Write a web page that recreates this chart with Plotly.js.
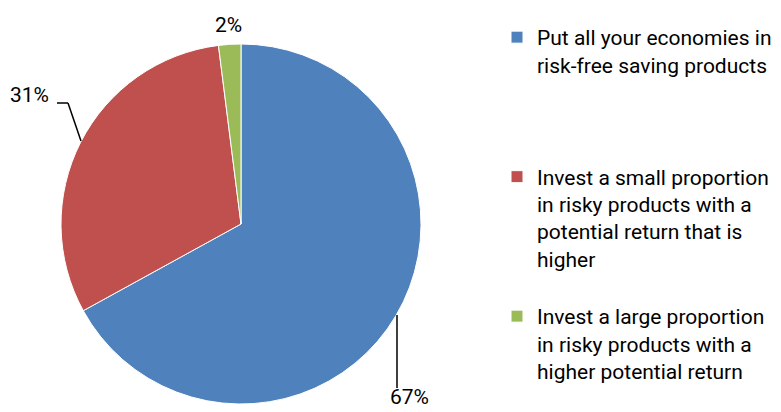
<!DOCTYPE html>
<html><head><meta charset="utf-8">
<script src="https://cdn.plot.ly/plotly-3.0.1.min.js"></script>
<style>html,body{margin:0;padding:0;background:#fff}#chart{width:781px;height:412px}</style>
</head><body><div id="chart"></div>
<script>
var categories = [
  "Put all your economies in<br>risk-free saving products",
  "Invest a small proportion<br>in risky products with a<br>potential return that is<br>higher",
  "Invest a large proportion<br>in risky products with a<br>higher potential return"
];
var values = [67, 31, 2];
var colors = ["#4F81BD", "#C0504D", "#9BBB59"];

var W = 781, H = 412;
function px(x){return x/W;} function py(y){return 1 - y/H;}

var slots = 5;
var legendLabels = categories.map(function(c, k){
  if (k === categories.length - 1) return c;
  var n = c.split("<br>").length;
  var s = c;
  for (var i=n;i<slots;i++) s += "<br>&nbsp;";
  return s;
});

var total = values.reduce(function(a,b){return a+b;},0);
var pct = values.map(function(v){return Math.round(v/total*100)+"%";});

var font = "Roboto, 'Open Sans', sans-serif";
var labelPos = [[410,411,"bottom"],[30,95,"middle"],[228,25,"middle"]];
var annotations = pct.map(function(t,i){
  return {text:t, x:px(labelPos[i][0]), y:py(labelPos[i][1]), xref:"paper", yref:"paper",
          showarrow:false, font:{family:font,size:21,color:"#000"}, xanchor:"center", yanchor:labelPos[i][2]};
});

var trace = {
  type:"pie", values:values, labels:legendLabels, sort:false, direction:"clockwise", rotation:0,
  marker:{colors:colors, line:{color:"#fff", width:1}},
  textinfo:"none", hoverinfo:"label+percent",
  domain:{x:[px(61), px(421)], y:[py(404), py(44)]}
};

var layout = {
  width:W, height:H, margin:{l:0,r:0,t:0,b:0}, paper_bgcolor:"#fff",
  showlegend:true,
  legend:{x:px(497), y:py(17), xanchor:"left", yanchor:"top", valign:"top",
          font:{family:font, size:21, color:"#000"}, bgcolor:"rgba(0,0,0,0)", itemwidth:30},
  annotations:annotations,
  shapes:[
    {type:"line", xref:"paper", yref:"paper", x0:px(397), y0:py(315), x1:px(397), y1:py(388), line:{color:"#000",width:1.5}},
    {type:"line", xref:"paper", yref:"paper", x0:px(57), y0:py(103), x1:px(68), y1:py(103), line:{color:"#000",width:1.5}},
    {type:"line", xref:"paper", yref:"paper", x0:px(68), y0:py(103), x1:px(81), y1:py(141), line:{color:"#000",width:1.5}}
  ]
};

Plotly.newPlot("chart", [trace], layout, {displayModeBar:false, staticPlot:true});
</script></body></html>
